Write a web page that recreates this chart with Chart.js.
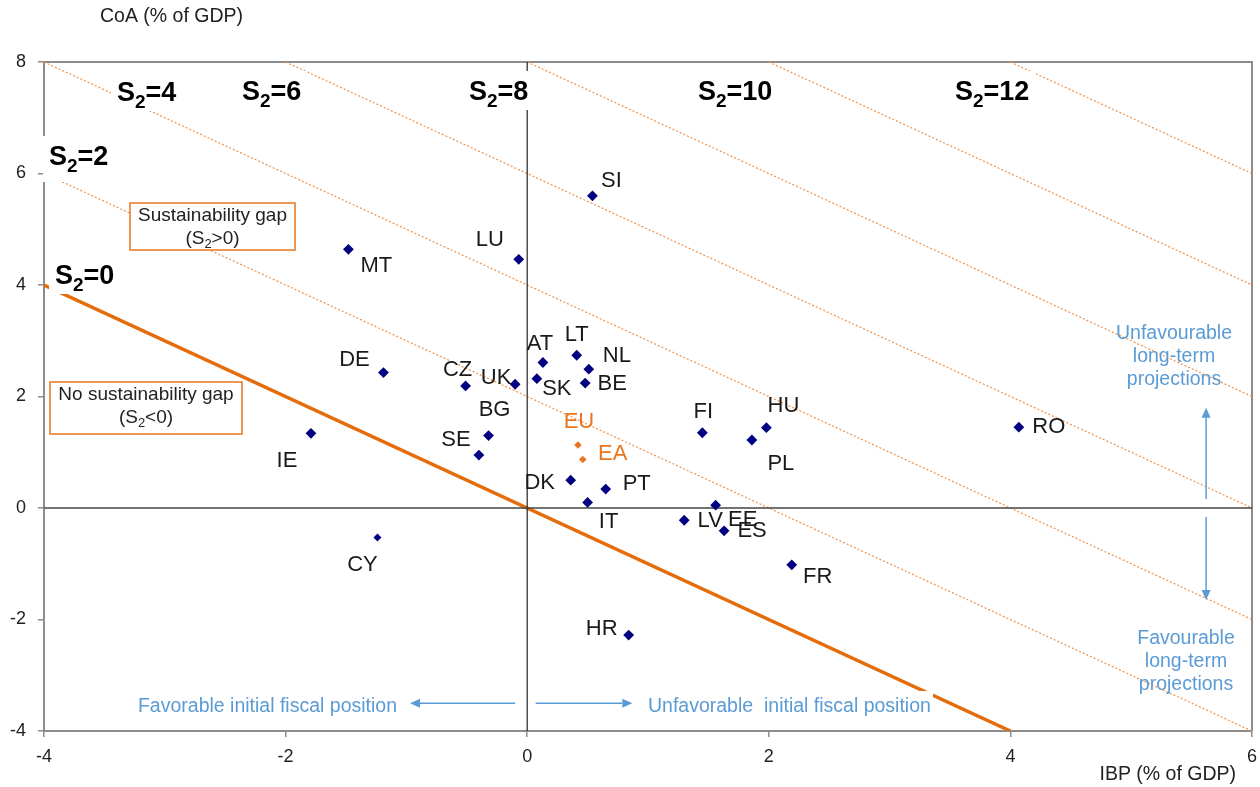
<!DOCTYPE html>
<html>
<head>
<meta charset="utf-8">
<script src="https://cdn.jsdelivr.net/npm/chart.js@4/dist/chart.umd.min.js"></script>
<style>
  html, body { margin: 0; padding: 0; background: #fff; }
  #wrap { width: 1260px; height: 787px; position: relative; }
</style>
</head>
<body>
<div id="wrap"><canvas id="chart"></canvas></div>
<script>
// country points: IBP (x) and CoA (y), % of GDP
const countries = ['SI', 'LU', 'MT', 'DE', 'IE', 'CZ', 'UK', 'AT', 'SK', 'LT', 'NL', 'BE', 'BG', 'SE',
  'FI', 'HU', 'PL', 'DK', 'PT', 'IT', 'EE', 'LV', 'ES', 'FR', 'HR', 'CY', 'RO'];
const ibp = [0.54, -0.07, -1.48, -1.19, -1.79, -0.51, -0.10, 0.13, 0.08, 0.41, 0.51, 0.48, -0.32, -0.40,
  1.45, 1.98, 1.86, 0.36, 0.65, 0.50, 1.56, 1.30, 1.63, 2.19, 0.84, -1.24, 4.07];
const coa = [5.60, 4.46, 4.64, 2.43, 1.34, 2.19, 2.22, 2.61, 2.32, 2.74, 2.49, 2.24, 1.30, 0.95,
  1.35, 1.44, 1.22, 0.50, 0.34, 0.10, 0.05, -0.22, -0.41, -1.02, -2.28, -0.53, 1.45];

const aggregates = ['EU', 'EA'];
const aggIbp = [0.42, 0.46];
const aggCoa = [1.13, 0.87];

// iso-lines S2 = IBP + CoA, end points where they meet the frame
const s2Levels = [0, 2, 4, 6, 8, 10, 12];
const s2Start = [[-4, 4], [-4, 6], [-4, 8], [-2, 8], [0, 8], [2, 8], [4, 8]];
const s2End = [[4, -4], [6, -4], [6, -2], [6, 0], [6, 2], [6, 4], [6, 6]];

const xTicks = [-4, -2, 0, 2, 4, 6];
const yTicks = [-4, -2, 0, 2, 4, 6, 8];

const FONT = '"Liberation Sans", Arial, sans-serif';
const NAVY = '#000080';
const ORANGE = '#e8761f';
const BLUE = '#5b9bd5';

// label offsets in px from the marker (text centre)
const labelOffset = {
  SI: [19, -15], LU: [-29, -19], MT: [28, 17], DE: [-29, -13], IE: [-24, 28], CZ: [-8, -16],
  UK: [-19, -6], AT: [-3, -19], SK: [20, 10], LT: [0, -20], NL: [28, -13], BE: [27, 1],
  BG: [6, -26], SE: [-23, -15], FI: [1, -21], HU: [17, -22], PL: [29, 24], DK: [-31, 3],
  PT: [31, -5], IT: [21, 20], EE: [27, 15], LV: [26, 1], ES: [28, 0], FR: [26, 12],
  HR: [-27, -6], CY: [-15, 27], RO: [30, 0], EU: [1, -23], EA: [30, -6]
};

// S2 label placement: [left px, baseline px]
const s2LabelPos = { 0: [55, 284], 2: [49, 165], 4: [117, 101], 6: [242, 100], 8: [469, 100], 10: [698, 100], 12: [955, 100] };

const arrows = [
  { from: [-0.10, -3.5], to: [-0.97, -3.5] },
  { from: [0.07, -3.5], to: [0.87, -3.5] },
  { from: [5.62, 0.16], to: [5.62, 1.80] },
  { from: [5.62, -0.16], to: [5.62, -1.65] }
];

function drawArrow(ctx, x1, y1, x2, y2) {
  const ang = Math.atan2(y2 - y1, x2 - x1);
  const L = 10, W = 4.5;
  ctx.beginPath();
  ctx.moveTo(x1, y1);
  ctx.lineTo(x2 - Math.cos(ang) * L, y2 - Math.sin(ang) * L);
  ctx.stroke();
  ctx.beginPath();
  ctx.moveTo(x2, y2);
  ctx.lineTo(x2 - Math.cos(ang) * L - Math.sin(ang) * W, y2 - Math.sin(ang) * L + Math.cos(ang) * W);
  ctx.lineTo(x2 - Math.cos(ang) * L + Math.sin(ang) * W, y2 - Math.sin(ang) * L - Math.cos(ang) * W);
  ctx.closePath();
  ctx.fill();
}

// text with subscript 2, e.g. "(S" "2" ">0)"; returns width
function subText(ctx, pre, post, x, y, size, bold, subSize, drop, measureOnly) {
  const w = bold ? 'bold ' : '';
  ctx.font = w + size + 'px ' + FONT;
  const w1 = ctx.measureText(pre).width, w3 = ctx.measureText(post).width;
  ctx.font = w + subSize + 'px ' + FONT;
  const w2 = ctx.measureText('2').width;
  if (measureOnly) return w1 + w2 + w3;
  ctx.textAlign = 'left';
  ctx.font = w + size + 'px ' + FONT;
  ctx.fillText(pre, x, y);
  ctx.font = w + subSize + 'px ' + FONT;
  ctx.fillText('2', x + w1, y + drop);
  ctx.font = w + size + 'px ' + FONT;
  ctx.fillText(post, x + w1 + w2, y);
  return w1 + w2 + w3;
}

const annotate = {
  id: 'annotate',
  beforeDatasetsDraw(chart) {
    const { ctx, chartArea: a } = chart;
    ctx.save();
    ctx.strokeStyle = '#8c8c8c';
    ctx.lineWidth = 2;
    ctx.beginPath();
    ctx.moveTo(a.left, a.top);
    ctx.lineTo(a.right, a.top);
    ctx.lineTo(a.right, a.bottom);
    ctx.stroke();
    ctx.restore();
  },
  afterDatasetsDraw(chart) {
    const { ctx, scales: { x, y } } = chart;
    ctx.save();
    ctx.textBaseline = 'alphabetic';

    // S2 labels on white boxes
    s2Levels.forEach(s => {
      const [lx, by] = s2LabelPos[s];
      const w = subText(ctx, 'S', '=' + s, 0, 0, 27, true, 19, 7, true);
      ctx.fillStyle = '#fff';
      ctx.fillRect(lx - 6, by - 29, w + 12, s === 2 ? 46 : 39);
      ctx.fillStyle = '#000';
      subText(ctx, 'S', '=' + s, lx, by, 27, true, 19, 7);
    });

    // gap boxes
    ctx.lineWidth = 1.5;
    ctx.strokeStyle = ORANGE;
    [[130, 203, 165, 47, 'Sustainability gap', '>0)'], [50, 382, 192, 52, 'No sustainability gap', '<0)']].forEach(b => {
      const [bx, byy, bw, bh, t1, t2] = b;
      ctx.fillStyle = '#fff';
      ctx.fillRect(bx, byy, bw, bh);
      ctx.strokeRect(bx, byy, bw, bh);
      ctx.fillStyle = '#222';
      ctx.font = '19px ' + FONT;
      ctx.textAlign = 'center';
      const cx = bx + bw / 2;
      ctx.fillText(t1, cx, byy + 18);
      const w2 = subText(ctx, '(S', t2, 0, 0, 19, false, 13, 4, true);
      subText(ctx, '(S', t2, cx - w2 / 2, byy + 41, 19, false, 13, 4);
    });

    // country labels
    ctx.font = '22px ' + FONT;
    ctx.textAlign = 'center';
    ctx.textBaseline = 'middle';
    ctx.fillStyle = '#1a1a1a';
    countries.forEach((c, i) => {
      const o = labelOffset[c];
      ctx.fillText(c, x.getPixelForValue(ibp[i]) + o[0], y.getPixelForValue(coa[i]) + o[1]);
    });
    ctx.fillStyle = ORANGE;
    aggregates.forEach((c, i) => {
      const o = labelOffset[c];
      ctx.fillText(c, x.getPixelForValue(aggIbp[i]) + o[0], y.getPixelForValue(aggCoa[i]) + o[1]);
    });

    // arrows
    ctx.strokeStyle = BLUE;
    ctx.fillStyle = BLUE;
    ctx.lineWidth = 1.5;
    arrows.forEach(ar => {
      drawArrow(ctx, x.getPixelForValue(ar.from[0]), y.getPixelForValue(ar.from[1]),
        x.getPixelForValue(ar.to[0]), y.getPixelForValue(ar.to[1]));
    });

    // fiscal position texts
    ctx.font = '19.5px ' + FONT;
    ctx.fillStyle = '#fff';
    ctx.fillRect(644, 691, 289, 32);
    ctx.fillStyle = BLUE;
    ctx.textAlign = 'right';
    ctx.fillText('Favorable initial fiscal position', 397, 707);
    ctx.textAlign = 'left';
    ctx.fillText('Unfavorable  initial fiscal position', 648, 707);

    ctx.textAlign = 'center';
    ['Unfavourable', 'long-term', 'projections'].forEach((t, i) => ctx.fillText(t, 1174, 334 + i * 23));
    ['Favourable', 'long-term', 'projections'].forEach((t, i) => ctx.fillText(t, 1186, 639 + i * 23));

    // axis titles
    ctx.fillStyle = '#222';
    ctx.font = '19.5px ' + FONT;
    ctx.textAlign = 'left';
    ctx.fillText('CoA (% of GDP)', 100, 17);
    ctx.textAlign = 'right';
    ctx.fillText('IBP (% of GDP)', 1236, 775);
    ctx.restore();
  }
};

const lineSets = s2Levels.map((s, i) => ({
  label: 'S2=' + s,
  data: [{ x: s2Start[i][0], y: s2Start[i][1] }, { x: s2End[i][0], y: s2End[i][1] }],
  showLine: true,
  borderColor: s === 0 ? '#e46c0a' : '#f0904a',
  borderWidth: s === 0 ? 3.5 : 1.2,
  borderDash: s === 0 ? [] : [2, 2],
  pointRadius: 0,
  order: 5
}));

const zeroSets = [
  { label: 'x0', data: [{ x: xTicks[0], y: 0 }, { x: xTicks[xTicks.length - 1], y: 0 }], borderColor: '#444', borderWidth: 1.6 },
  { label: 'y0', data: [{ x: 0, y: yTicks[0] }, { x: 0, y: yTicks[yTicks.length - 1] }], borderColor: '#222', borderWidth: 1.2 }
].map(d => Object.assign(d, { showLine: true, pointRadius: 0, order: 4 }));

const tickFont = { family: FONT, size: 18 };

new Chart(document.getElementById('chart'), {
  type: 'scatter',
  data: {
    datasets: [
      ...lineSets,
      ...zeroSets,
      {
        label: 'countries',
        data: countries.map((c, i) => ({ x: ibp[i], y: coa[i] })),
        pointStyle: 'rectRot',
        pointRadius: countries.map(c => (c === 'CY' ? 4 : 5.4)),
        backgroundColor: NAVY,
        borderColor: NAVY,
        borderWidth: 0,
        order: 0
      },
      {
        label: 'aggregates',
        data: aggregates.map((c, i) => ({ x: aggIbp[i], y: aggCoa[i] })),
        pointStyle: 'rectRot',
        pointRadius: 3.8,
        backgroundColor: ORANGE,
        borderColor: ORANGE,
        borderWidth: 0,
        order: 0
      }
    ]
  },
  options: {
    responsive: true,
    maintainAspectRatio: false,
    animation: false,
    layout: { padding: { top: 62, right: 8, left: 0, bottom: 0 } },
    plugins: { legend: { display: false }, tooltip: { enabled: false } },
    scales: {
      x: {
        type: 'linear', min: xTicks[0], max: xTicks[xTicks.length - 1],
        afterBuildTicks: s => { s.ticks = xTicks.map(v => ({ value: v })); },
        afterFit: s => { s.height = 56; s.paddingLeft = 0; s.paddingRight = 0; },
        ticks: { padding: 9, color: '#222', font: tickFont },
        grid: { drawOnChartArea: false, tickLength: 6, color: '#8c8c8c', lineWidth: 1.5 },
        border: { color: '#8c8c8c', width: 2 }
      },
      y: {
        type: 'linear', min: yTicks[0], max: yTicks[yTicks.length - 1],
        afterBuildTicks: s => { s.ticks = yTicks.map(v => ({ value: v })); },
        afterFit: s => { s.width = 44; s.paddingTop = 0; s.paddingBottom = 0; },
        ticks: { padding: 12, color: '#222', font: tickFont },
        grid: { drawOnChartArea: false, tickLength: 6, color: '#8c8c8c', lineWidth: 1.5 },
        border: { color: '#8c8c8c', width: 2 }
      }
    }
  },
  plugins: [annotate]
});
</script>
</body>
</html>
